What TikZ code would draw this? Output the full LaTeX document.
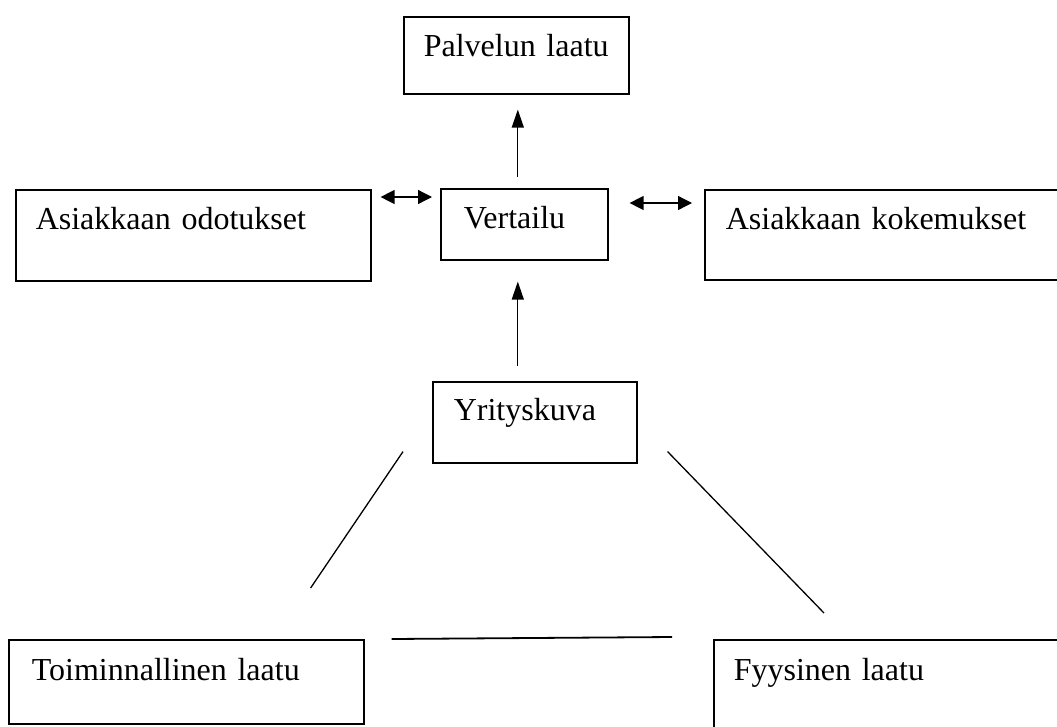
\documentclass[tikz,border=0pt]{standalone}
\usepackage{fontspec}
\setmainfont{Liberation Serif}
\usetikzlibrary{arrows.meta}
\begin{document}
\begin{tikzpicture}[x=1pt,y=-1pt,
  box/.style={draw, line width=1.6pt, anchor=north west, inner ysep=0pt, align=left,
    font=\fontsize{32}{38}\selectfont},
  conn/.style={line width=1.3pt},
  uparr/.style={conn, -{Triangle[length=18pt,width=12pt]}},
  dblarr/.style={conn, {Triangle[length=14pt,width=14pt]}-{Triangle[length=14pt,width=14pt]}}
]
\useasboundingbox (0,0) rectangle (1057,726);
\clip (0,0) rectangle (1057,726);
\fill[white] (0,0) rectangle (1057,726);
% boxes: text width = W - 2*xsep ; text height = baseline offset ; depth = H - that
\node[box, inner xsep=20pt, text width=185pt, text height=40pt, text depth=37pt] (palv) at (403,16) {Palvelun laatu};
\node[box, inner xsep=20pt, text width=315pt, text height=40pt, text depth=51pt] (odot) at (15,189) {Asiakkaan odotukset};
\node[box, inner xsep=23pt, text width=121pt, text height=40pt, text depth=31pt] (vert) at (440,188) {Vertailu};
\node[box, inner xsep=21pt, text width=328pt, text height=40pt, text depth=50pt] (koke) at (704,189) {Asiakkaan kokemukset};
\node[box, inner xsep=21pt, text width=162pt, text height=39pt, text depth=42pt] (yrit) at (432,381) {Yrityskuva};
\node[box, inner xsep=23pt, text width=309pt, text height=41pt, text depth=43pt] (toim) at (8,639) {Toiminnallinen laatu};
\node[box, inner xsep=20pt, text width=330pt, text height=41pt, text depth=59pt] (fyys) at (713,639) {Fyysinen laatu};
% connectors
\draw[uparr] ([xshift=-6.5pt,yshift=11pt]vert.north) -- ([xshift=1.5pt,yshift=-15pt]palv.south);
\draw[uparr] ([xshift=-17pt,yshift=15pt]yrit.north) -- ([xshift=-6.5pt,yshift=-21pt]vert.south);
\draw[dblarr] ([xshift=9pt,yshift=-8pt]odot.north east) -- ([xshift=-8pt,yshift=-9pt]vert.north west);
\draw[dblarr] ([xshift=21pt,yshift=-15pt]vert.north east) -- ([xshift=-12pt,yshift=-14pt]koke.north west);
\draw[conn] ([xshift=-29pt,yshift=12pt]yrit.south west) -- ([xshift=-54pt,yshift=51pt]toim.north east);
\draw[conn] ([xshift=30pt,yshift=12pt]yrit.south east) -- ([xshift=111pt,yshift=26pt]fyys.north west);
\draw[line width=1.8pt] ([xshift=27pt]toim.north east) -- ([xshift=-41pt,yshift=2pt]fyys.north west);
\end{tikzpicture}
\end{document}
